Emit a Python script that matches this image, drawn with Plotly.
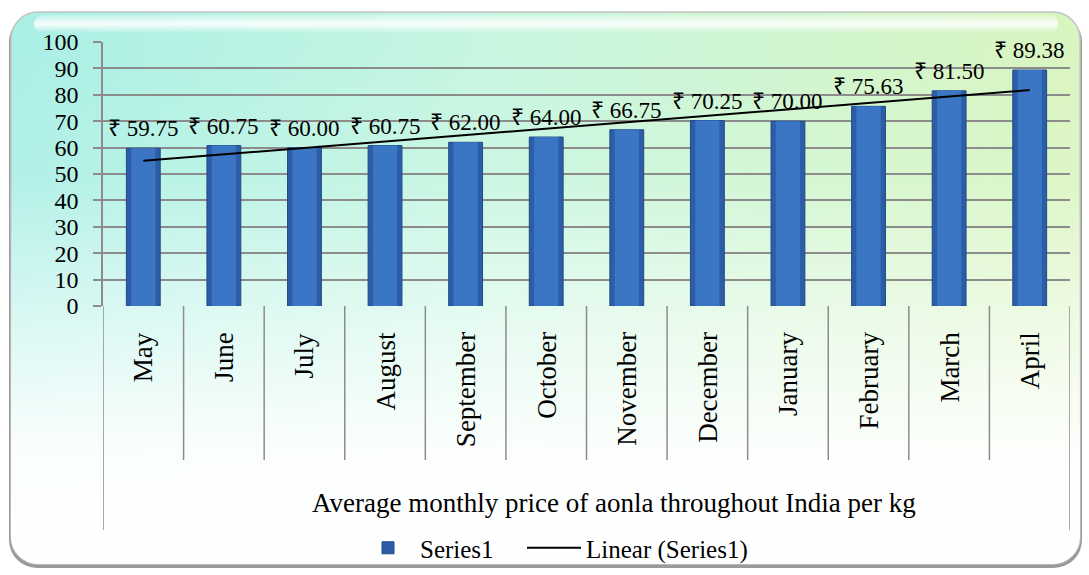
import base64
import numpy as np
import plotly.graph_objects as go

# Average monthly aonla price (₹ per kg)
months = ["May", "June", "July", "August", "September", "October",
          "November", "December", "January", "February", "March", "April"]
prices = [59.75, 60.75, 60.00, 60.75, 62.00, 64.00,
          66.75, 70.25, 70.00, 75.63, 81.50, 89.38]
group_label = "Average monthly price of aonla throughout India per kg"
series_name = "Series1"
trend_name = "Linear (Series1)"
y_ticks = list(range(0, 101, 10))

W, H = 1089, 575
ML, MR, MT, MB = 103, 19, 42, 269
PW, PH = W - ML - MR, H - MT - MB
FONT = "Liberation Serif"
GRID = "#8c8c8c"


def py(px):
    """Pixel row (from top of figure) -> paper y."""
    return (H - MB - px) / PH


def pxx(px):
    """Pixel column -> paper x."""
    return (px - ML) / PW


# linear trend fitted to the monthly prices
idx = np.arange(1, len(prices) + 1)
slope, icpt = np.polyfit(idx, prices, 1)
trend = slope * idx + icpt

# rounded, shaded chart-area background
svg = f"""<svg xmlns='http://www.w3.org/2000/svg' width='{W}' height='{H}'>
<defs>
<linearGradient id='h' x1='0' y1='0' x2='1' y2='0'>
<stop offset='0' stop-color='#a9efe6'/>
<stop offset='0.45' stop-color='#c6f6e0'/>
<stop offset='1' stop-color='#d9f5bf'/>
</linearGradient>
<linearGradient id='v' x1='0' y1='0' x2='0' y2='1'>
<stop offset='0' stop-color='#ffffff' stop-opacity='0'/>
<stop offset='0.3' stop-color='#ffffff' stop-opacity='0.1'/>
<stop offset='0.55' stop-color='#ffffff' stop-opacity='0.55'/>
<stop offset='0.8' stop-color='#ffffff' stop-opacity='0.95'/>
<stop offset='1' stop-color='#ffffff' stop-opacity='1'/>
</linearGradient>
<linearGradient id='g' x1='0' y1='0' x2='0' y2='1'>
<stop offset='0' stop-color='#ffffff' stop-opacity='0.2'/>
<stop offset='0.5' stop-color='#ffffff' stop-opacity='0.9'/>
<stop offset='1' stop-color='#ffffff' stop-opacity='0'/>
</linearGradient>
</defs>
<rect x='0' y='0' width='{W}' height='{H}' fill='#ffffff'/>
<rect x='9' y='14' width='1073' height='554' rx='28' fill='#9a9a9a'/>
<rect x='11' y='12' width='1069' height='552' rx='27' fill='url(#h)' stroke='#c4c4c4' stroke-width='1.5'/>
<rect x='11' y='12' width='1069' height='552' rx='27' fill='url(#v)'/>
<rect x='34' y='15' width='1024' height='18' rx='9' fill='url(#g)'/>
</svg>"""
bg_src = "data:image/svg+xml;base64," + base64.b64encode(svg.encode()).decode()

fig = go.Figure()
# bar body with darker bevelled sides
fig.add_trace(go.Bar(
    x=months, y=prices, name=series_name, width=0.42, legend="legend",
    marker=dict(color="#2c5ea8", line=dict(color="#1f4a86", width=1)),
))
# lighter face of each bar
fig.add_trace(go.Bar(
    x=months, y=prices, name=series_name, width=0.30, showlegend=False,
    hoverinfo="skip", marker=dict(color="#3b76c5", line=dict(width=0)),
))
fig.add_trace(go.Scatter(
    x=months, y=trend, name=trend_name, mode="lines", legend="legend2",
    line=dict(color="#000000", width=2),
))

annotations = []
# value labels above each bar
for m, v in zip(months, prices):
    annotations.append(dict(
        x=m, y=v, xref="x", yref="y", text=f"₹ {v:.2f}", showarrow=False,
        yanchor="bottom", yshift=5, font=dict(family=FONT, size=23, color="#000"),
    ))
# rotated month names under the axis
for m in months:
    annotations.append(dict(
        x=m, y=py(330), xref="x", yref="paper", text=m, showarrow=False,
        textangle=-90, yanchor="top", xanchor="center",
        font=dict(family=FONT, size=27, color="#000"),
    ))
# outer category label
annotations.append(dict(
    x=pxx(614), y=py(503), xref="paper", yref="paper", text=group_label,
    showarrow=False, yanchor="middle", xanchor="center",
    font=dict(family=FONT, size=27, color="#000"),
))

shapes = []
n = len(months)
# dividers between month cells
for k in range(1, n):
    shapes.append(dict(type="line", xref="x", yref="paper",
                       x0=k - 0.5, x1=k - 0.5, y0=0, y1=py(460),
                       line=dict(color=GRID, width=1.5)))
# outer edges of the category block
for xe in (-0.5, n - 0.5):
    shapes.append(dict(type="line", xref="x", yref="paper",
                       x0=xe, x1=xe, y0=0, y1=py(530),
                       line=dict(color=GRID, width=1.5)))

legend_style = dict(orientation="h", xanchor="left", y=py(548),
                    yanchor="middle", bgcolor="rgba(0,0,0,0)",
                    font=dict(family=FONT, size=25, color="#000"),
                    itemwidth=54)

fig.update_layout(
    width=W, height=H,
    margin=dict(l=ML, r=MR, t=MT, b=MB, autoexpand=False),
    paper_bgcolor="#ffffff", plot_bgcolor="rgba(0,0,0,0)",
    font=dict(family=FONT, size=24, color="#000"),
    showlegend=True, barmode="overlay",
    legend=dict(x=pxx(356), **legend_style),
    legend2=dict(x=pxx(522), **legend_style),
    annotations=annotations, shapes=shapes,
    images=[dict(source=bg_src, xref="paper", yref="paper",
                 x=-ML / PW, y=1 + MT / PH, sizex=W / PW, sizey=H / PH,
                 xanchor="left", yanchor="top", sizing="stretch",
                 layer="below")],
)
fig.update_xaxes(type="category", range=[-0.5, n - 0.5], showticklabels=False,
                 showgrid=False, zeroline=False, showline=False, ticks="")
fig.update_yaxes(range=[0, 100], tickvals=y_ticks, showgrid=True,
                 gridcolor=GRID, gridwidth=1.5, zeroline=False,
                 showline=True, linecolor=GRID, linewidth=1.5,
                 ticks="outside", ticklen=8, tickcolor=GRID, tickwidth=1.5,
                 ticklabelstandoff=10,
                 tickfont=dict(family=FONT, size=24, color="#000"))

fig.write_html("out.html")
